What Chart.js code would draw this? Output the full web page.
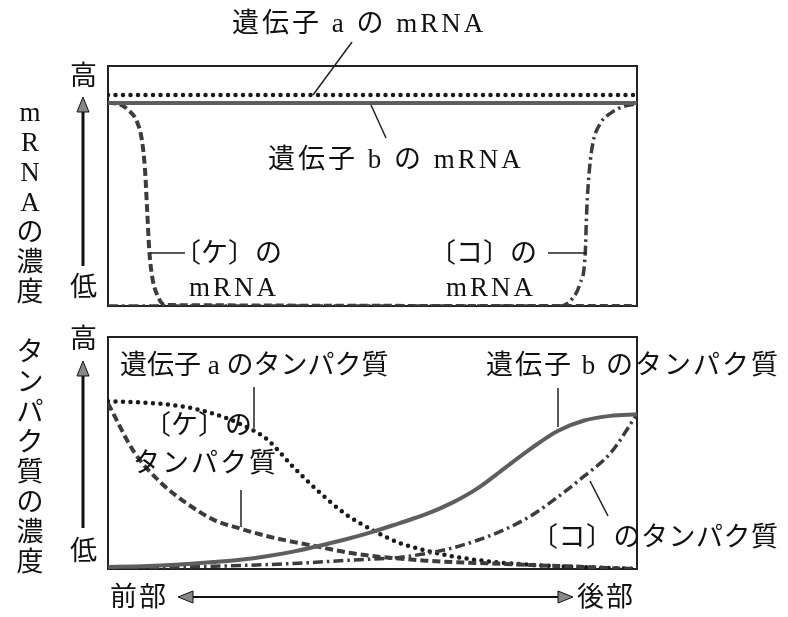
<!DOCTYPE html>
<html>
<head>
<meta charset="utf-8">
<script src="https://cdn.jsdelivr.net/npm/chart.js@4"></script>
<style>
  body { margin: 0; background: #fff; }
  #wrap { position: relative; width: 788px; height: 617px; overflow: hidden; }
  canvas { position: absolute; }
  .lbl {
    position: absolute; white-space: nowrap; color: #111;
    font-family: "Liberation Serif", "Noto Sans CJK JP", serif;
    font-size: 27px; line-height: 27px; letter-spacing: 2px;
  }
  .vert {
    position: absolute; color: #111; width: 30px; text-align: center;
    font-family: "Liberation Serif", "Noto Sans CJK JP", serif;
    font-size: 27px; line-height: 30px; word-break: break-all;
  }
  svg { position: absolute; left: 0; top: 0; }
</style>
</head>
<body>
<div id="wrap">
  <canvas id="mrna" width="545" height="256" style="left:100px;top:58px"></canvas>
  <canvas id="protein" width="545" height="248" style="left:100px;top:329px"></canvas>

  <svg width="788" height="617">
    <g stroke="#222" stroke-width="1.5" fill="none">
      <!-- leader lines, upper panel -->
      <line x1="352" y1="42" x2="313" y2="95"/>
      <line x1="371" y1="105" x2="386" y2="138"/>
      <line x1="150" y1="253" x2="185" y2="253"/>
      <line x1="548" y1="253" x2="587" y2="253"/>
      <!-- leader lines, lower panel -->
      <line x1="254" y1="387" x2="254" y2="428"/>
      <line x1="558" y1="388" x2="558" y2="427"/>
      <line x1="241" y1="490" x2="241" y2="527"/>
      <line x1="590" y1="481" x2="608" y2="516"/>
    </g>
    <g stroke="#111" fill="#888" stroke-width="1">
      <line x1="83" y1="266" x2="83" y2="108" stroke-width="3"/>
      <polygon points="83,97 77,112 89,112"/>
      <line x1="83" y1="528" x2="83" y2="372" stroke-width="3"/>
      <polygon points="83,361 77,376 89,376"/>
      <line x1="190" y1="597" x2="562" y2="597" stroke-width="2"/>
      <polygon points="178,597 193,591 193,603"/>
      <polygon points="573,597 558,591 558,603"/>
    </g>
  </svg>

  <div class="vert" style="left:15px;top:97px">mRNAの濃度</div>
  <div class="vert" style="left:15px;top:337px">タンパク質の濃度</div>
  <div class="lbl" style="left:70px;top:63px">高</div>
  <div class="lbl" style="left:70px;top:274px">低</div>
  <div class="lbl" style="left:70px;top:326px">高</div>
  <div class="lbl" style="left:70px;top:538px">低</div>

  <div class="lbl" style="left:232px;top:10px;letter-spacing:3px">遺伝子 a の mRNA</div>
  <div class="lbl" style="left:268px;top:146px;letter-spacing:3px">遺伝子 b の mRNA</div>
  <div class="lbl" style="left:174px;top:240px;letter-spacing:0">〔ケ〕の</div>
  <div class="lbl" style="left:189px;top:274px;letter-spacing:3px">mRNA</div>
  <div class="lbl" style="left:429px;top:240px;letter-spacing:0">〔コ〕の</div>
  <div class="lbl" style="left:446px;top:274px;letter-spacing:3px">mRNA</div>

  <div class="lbl" style="left:120px;top:352px;letter-spacing:0">遺伝子 a のタンパク質</div>
  <div class="lbl" style="left:486px;top:352px">遺伝子 b のタンパク質</div>
  <div class="lbl" style="left:144px;top:412px;letter-spacing:0">〔ケ〕の</div>
  <div class="lbl" style="left:133px;top:450px;letter-spacing:2px">タンパク質</div>
  <div class="lbl" style="left:531px;top:524px;letter-spacing:0.5px">〔コ〕のタンパク質</div>

  <div class="lbl" style="left:110px;top:584px">前部</div>
  <div class="lbl" style="left:577px;top:584px">後部</div>
</div>

<script>
// upper panel: mRNA along the body axis (0 = front, 100 = back)
var geneAPosM = [0, 100];
var geneAM = [87.9, 87.9];
var geneBPosM = [0, 100];
var geneBM = [84.6, 84.6];
var kePosM = [0, 1.9, 3.8, 5.5, 6.4, 7, 7.4, 7.8, 8.3, 9.3, 10.8, 100];
var keM = [84.6, 84.2, 81.7, 76.7, 69.2, 56.7, 40, 23.3, 12.9, 4.6, 0.4, 0];
var koPosM = [0, 85.4, 87.7, 89.2, 90.2, 90.5, 91, 91.7, 93, 95.3, 97.7, 100];
var koM = [0, 0, 2.9, 9.2, 21.3, 40, 56.7, 68.3, 75.8, 80.8, 83.3, 84.2];

// lower panel: proteins
var posP = [0, 5, 10, 15, 20, 25, 30, 35, 40, 45, 50, 55, 60, 65, 70, 75, 80, 85, 90, 95, 100];
var geneAP = [72.3, 71.9, 71.2, 69.7, 66.9, 62.5, 56, 44, 33, 23.5, 16.8, 11.3, 8, 5.5, 3.8, 2.6, 1.8, 1.2, 0.8, 0.4, 0];
var keP = [71.4, 50.2, 37.2, 28.1, 21.2, 17.4, 14.2, 11.7, 9.5, 7.2, 5.6, 4.5, 3.6, 3, 2.6, 2.2, 1.7, 1.3, 0.9, 0.4, 0];
var geneBP = [0.9, 1.1, 1.5, 2.2, 3, 4, 5.5, 7.5, 10, 12.8, 16, 19.7, 23.5, 28.5, 35, 43.5, 52, 59.5, 64, 66, 66.7];
var koP = [0.4, 0.5, 0.7, 0.9, 1.2, 1.5, 1.9, 2.4, 3, 3.7, 4.3, 5, 6.6, 9, 12.5, 17, 23, 31, 40, 50, 66.7];

function pts(xs, ys) {
    return xs.map(function (x, i) { return { x: x, y: ys[i] }; });
}

// line looks
var dotted = { borderColor: '#1a1a1a', borderWidth: 4.5, borderDash: [0, 7.5], borderCapStyle: 'round' };
var solid = { borderColor: '#5e5e5e', borderWidth: 4 };
var dashed = { borderColor: '#3c3c3c', borderWidth: 4, borderDash: [8, 4] };
var dashDot = { borderColor: '#3c3c3c', borderWidth: 3.5, borderDash: [10, 4, 2.5, 4] };

function ds(data, look) {
    return Object.assign({ data: data, pointRadius: 0, cubicInterpolationMode: 'monotone', fill: false }, look);
}

// box around the plot area
var boxPlugin = {
    id: 'box',
    beforeDatasetsDraw: function (chart) {
        var a = chart.chartArea, c = chart.ctx;
        c.save();
        c.strokeStyle = '#222';
        c.lineWidth = 2;
        c.strokeRect(a.left, a.top, a.right - a.left, a.bottom - a.top);
        c.restore();
    }
};

function makeChart(id, datasets) {
    return new Chart(document.getElementById(id), {
        type: 'line',
        data: { datasets: datasets },
        options: {
            responsive: false,
            animation: false,
            layout: { padding: 8 },
            plugins: { legend: { display: false }, tooltip: { enabled: false } },
            scales: {
                x: { type: 'linear', min: 0, max: 100, display: false },
                y: { min: 0, max: 100, display: false }
            }
        },
        plugins: [boxPlugin]
    });
}

makeChart('mrna', [
    ds(pts(geneBPosM, geneBM), solid),
    ds(pts(geneAPosM, geneAM), dotted),
    ds(pts(kePosM, keM), dashed),
    ds(pts(koPosM, koM), dashDot)
]);

makeChart('protein', [
    ds(pts(posP, geneBP), solid),
    ds(pts(posP, koP), dashDot),
    ds(pts(posP, keP), dashed),
    ds(pts(posP, geneAP), dotted)
]);
</script>
</body>
</html>
